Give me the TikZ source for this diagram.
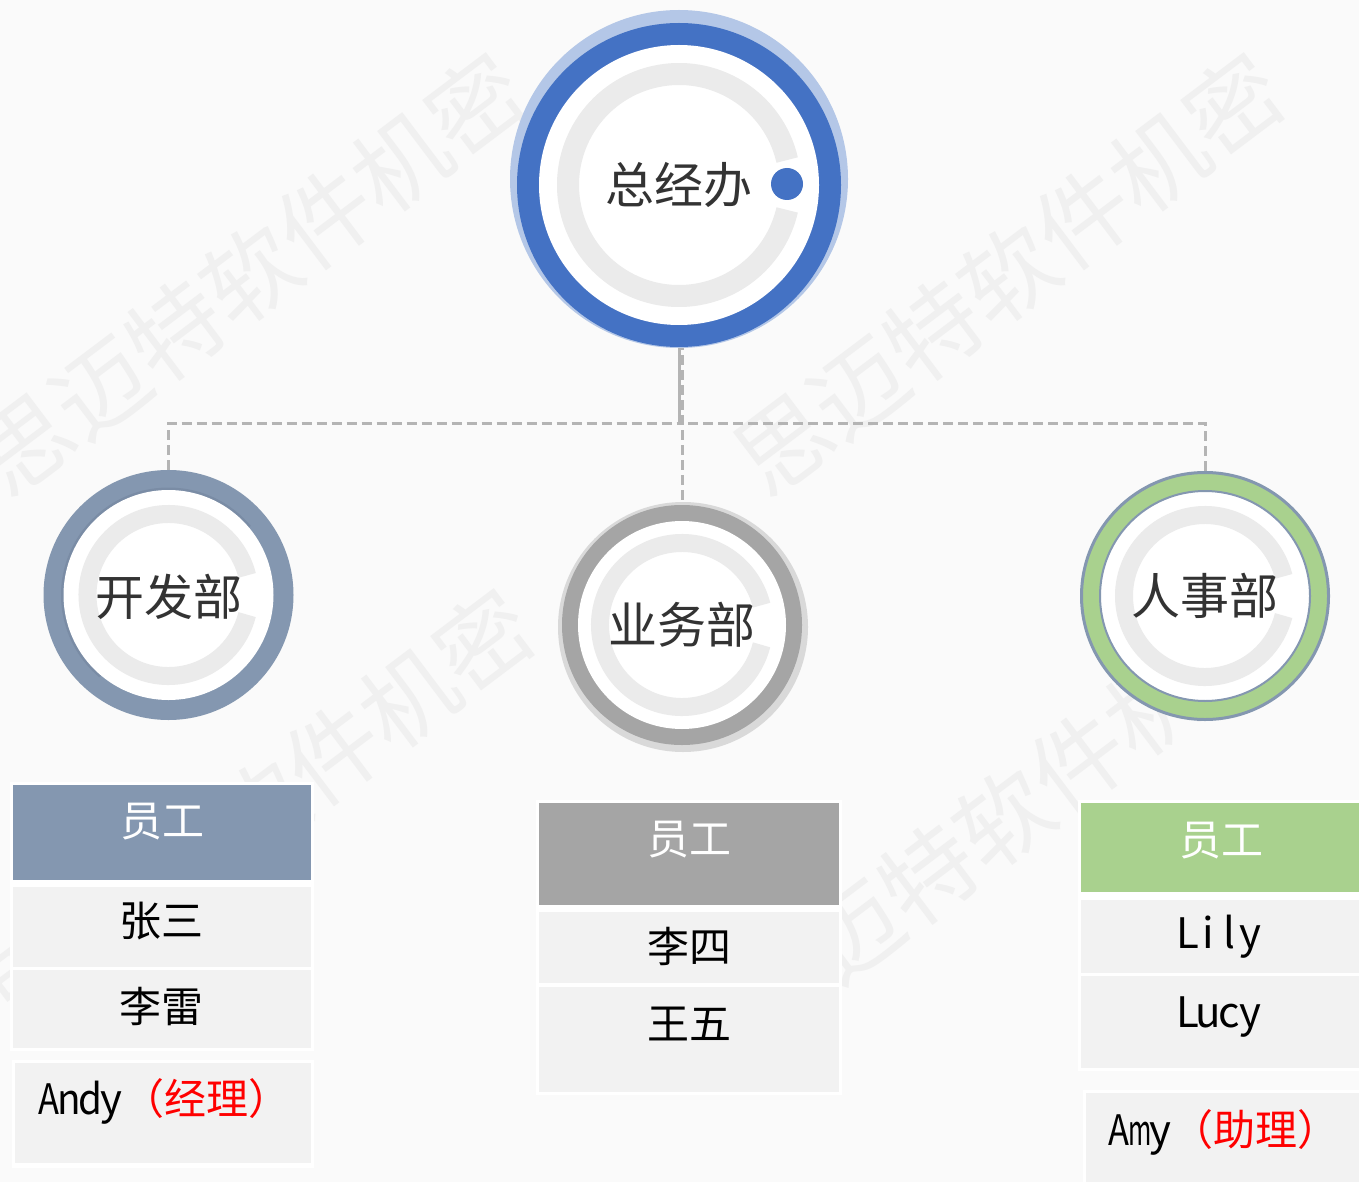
\documentclass[tikz,border=0pt]{standalone}
\usepackage{fontspec}
\setmainfont{Noto Sans CJK SC}
\usetikzlibrary{calc}
\definecolor{bgc}{HTML}{FAFAFA}
\definecolor{wmc}{HTML}{F0F0F0}
\definecolor{blueD}{HTML}{4472C4}
\definecolor{blueL}{HTML}{B4C7E7}
\definecolor{slate}{HTML}{8497B0}
\definecolor{slateD}{HTML}{7A8CA5}
\definecolor{greyD}{HTML}{A5A5A5}
\definecolor{greyL}{HTML}{D9D9D9}
\definecolor{greenC}{HTML}{A9D18E}
\definecolor{arcC}{HTML}{EBEBEB}
\definecolor{rowC}{HTML}{F2F2F2}
\definecolor{txtD}{HTML}{333333}
\definecolor{lineC}{HTML}{B4B4B4}
\newcommand\halfw[1]{\makebox[0.5em]{#1}}
\newcommand\halfs[2]{\makebox[0.5em]{\scalebox{#1}[1]{#2}}}
\begin{document}
\begin{tikzpicture}[x=1pt,y=-1pt,
  wm/.style={font=\fontsize{94}{94}\selectfont, text=wmc, inner sep=0, rotate=37},
  ttl/.style={font=\fontsize{49}{49}\selectfont, text=txtD, inner sep=0},
  hdr/.style={font=\fontsize{42}{42}\selectfont, text=white, inner sep=0},
  nm/.style={font=\fontsize{42}{42}\selectfont, text=black, inner sep=0},
  ringnode/.style={circle, inner sep=0, minimum size=#1},
  dashconn/.style={draw=lineC, line width=3pt, dash pattern=on 10pt off 5pt},
  solidconn/.style={draw=lineC, line width=3pt},
  carc/.style={draw=arcC, line width=#1},
]
\useasboundingbox (0,0) rectangle (1359,1182);
\fill[bgc] (0,0) rectangle (1359,1182);

% watermarks
\node[wm] (wm1) at (250,274) {思迈特软件机密};
\node[wm] (wm2) at (1008,274) {思迈特软件机密};
\node[wm] (wm3) at (258,810) {思迈特软件机密};
\node[wm] (wm4) at (1003,818) {思迈特软件机密};

% circle anchors
\coordinate (c0) at (679,185);
\coordinate (c1) at (168.5,595);
\coordinate (c2) at (682,625);
\coordinate (c3) at (1205,596);
\node[ringnode=324pt] (zjb) at (c0) {};
\node[ringnode=250pt] (kfb) at (c1) {};
\node[ringnode=250pt] (ywb) at (c2) {};
\node[ringnode=250pt] (rsb) at (c3) {};
\coordinate (hub) at (679,423);

% connectors
\draw[solidconn] (zjb.south) -- (hub);
\draw[dashconn] (ywb.north) -- (ywb.north |- zjb.south);
\draw[dashconn] (kfb.north) |- (hub);
\draw[dashconn] (rsb.north) |- (hub);

% top circle
\fill[blueL] (679,179) circle[radius=169pt];
\fill[blueD] (c0) circle[radius=162pt];
\fill[white] (c0) circle[radius=140pt];
\draw[carc=22pt] ($(c0)+(13:111pt)$) arc[start angle=13, end angle=347, radius=111pt];
\fill[blueD] (787,184) circle[radius=16pt];
\node[ttl] (t0) at (c0) {总经办};

% dev
\fill[slate] (c1) circle[radius=125pt];
\draw[slateD, line width=3pt] ($(c1)+(40:106pt)$) arc[start angle=40, end angle=230, radius=106pt];
\fill[white] (c1) circle[radius=105pt];
\draw[carc=18pt] ($(c1)+(14:81pt)$) arc[start angle=14, end angle=346, radius=81pt];
\node[ttl] (t1) at (168.5,597) {开发部};

% business
\fill[greyL] (683,627) circle[radius=125pt];
\fill[greyD] (c2) circle[radius=120pt];
\fill[white] (c2) circle[radius=104pt];
\draw[carc=18pt] ($(c2)+(14:82pt)$) arc[start angle=14, end angle=346, radius=82pt];
\node[ttl] (t2) at (c2) {业务部};

% HR
\fill[greenC, draw=slate, line width=3pt] (c3) circle[radius=123.5pt];
\fill[white, draw=slate, line width=2pt] (c3) circle[radius=105pt];
\draw[carc=18pt] ($(c3)+(14:81pt)$) arc[start angle=14, end angle=346, radius=81pt];
\node[ttl] (t3) at (c3) {人事部};

% left table
\fill[white] (10,782) rectangle (314,1051);
\fill[slate] (13,785) rectangle (311,880);
\fill[rowC] (13,887) rectangle (311,967);
\fill[rowC] (13,970) rectangle (311,1048);
\fill[white] (12,1060) rectangle (314,1168);
\fill[rowC] (15,1063) rectangle (311,1163);
\node[hdr] (h1) at (162,822) {员工};
\node[nm] (n11) at (161,921) {张三};
\node[nm] (n12) at (161,1007) {李雷};
\node[nm, anchor=base west] (n13) at (38,1114) {\halfs{0.82}{A}\halfs{0.92}{n}\halfs{0.92}{d}\halfw{y}\textcolor{red}{（经理）}};

% middle table
\fill[white] (536,800) rectangle (842,1095);
\fill[greyD] (539,803) rectangle (839,905);
\fill[rowC] (539,912) rectangle (839,983);
\fill[rowC] (539,987) rectangle (839,1092);
\node[hdr] (h2) at (689,840) {员工};
\node[nm] (n21) at (689,946) {李四};
\node[nm] (n22) at (689,1024) {王五};

% right table
\fill[white] (1078,800) rectangle (1359,1071);
\fill[greenC] (1081,803) rectangle (1359,892);
\fill[rowC] (1081,900) rectangle (1359,973);
\fill[rowC] (1081,976) rectangle (1359,1068);
\fill[white] (1083,1090) rectangle (1359,1182);
\fill[rowC] (1086,1093) rectangle (1359,1182);
\node[hdr] (h3) at (1221,841) {员工};
\node[nm, anchor=base] (n31) at (1219,948) {\halfw{L}\halfw{i}\halfw{l}\halfw{y}};
\node[nm, anchor=base] (n32) at (1219,1027) {\halfw{L}\halfw{u}\halfw{c}\halfw{y}};
\node[nm, anchor=base west] (n33) at (1108,1145) {\halfs{0.82}{A}\halfs{0.6}{m}\halfw{y}\textcolor{red}{（助理）}};
\end{tikzpicture}
\end{document}
